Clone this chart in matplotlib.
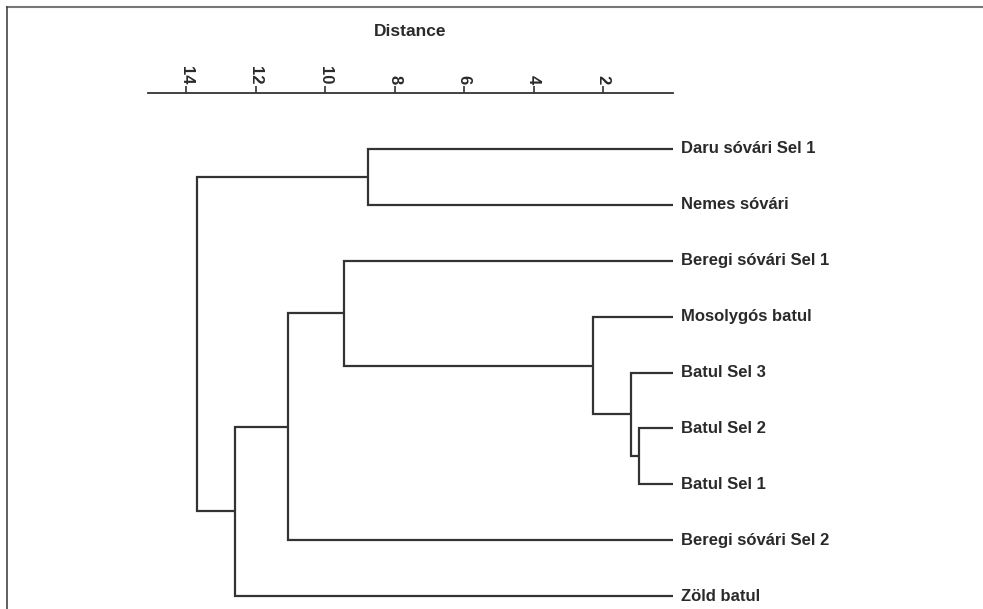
import matplotlib
matplotlib.use("Agg")
import matplotlib.pyplot as plt
from matplotlib.lines import Line2D

plt.rcParams['font.family'] = ['Liberation Sans', 'DejaVu Sans']

leaves = ["Daru sóvári Sel 1", "Nemes sóvári", "Beregi sóvári Sel 1",
          "Mosolygós batul", "Batul Sel 3", "Batul Sel 2", "Batul Sel 1",
          "Beregi sóvári Sel 2", "Zöld batul"]

# linkage: cluster n_leaves + k joins merge_left[k] and merge_right[k]
merge_left = [5, 4, 3, 0, 2, 13, 14, 12]
merge_right = [6, 9, 10, 1, 11, 7, 8, 15]
merge_height = [0.96, 1.19, 2.28, 8.77, 9.45, 11.06, 12.59, 13.68]

tick_values = [14, 12, 10, 8, 6, 4, 2]

LINE = "#333333"
TEXT = "#2a2a2a"

fig = plt.figure(figsize=(9.83, 6.09), dpi=100)
ax = fig.add_axes([148 / 983, 0, (672.5 - 148) / 983, 1 - 93 / 609])

n = len(leaves)
pos = {i: (0.0, float(i)) for i in range(n)}
for k, (a, b, h) in enumerate(zip(merge_left, merge_right, merge_height)):
    xa, ya = pos[a]
    xb, yb = pos[b]
    ax.plot([xa, h, h, xb], [ya, ya, yb, yb], color=LINE, lw=1.6,
            solid_joinstyle="miter", solid_capstyle="butt", clip_on=False)
    pos[n + k] = (h, (ya + yb) / 2)

for i, name in enumerate(leaves):
    ax.annotate(name, (0, i), xytext=(6, 0), textcoords="offset points",
                va="center", ha="left", fontsize=12, fontweight="bold",
                color=TEXT, annotation_clip=False)

ax.set_xlim(15.1, 0)
ax.set_ylim(8.23, -1.0)

for side in ["left", "right", "bottom"]:
    ax.spines[side].set_visible(False)
ax.spines["top"].set_color(LINE)
ax.spines["top"].set_linewidth(1.3)
ax.set_yticks([])
ax.xaxis.set_ticks_position("top")
ax.xaxis.set_label_position("top")
ax.set_xticks(tick_values)
ax.set_xticklabels([str(v) for v in tick_values], rotation=270,
                   fontsize=12, fontweight="bold", color=TEXT)
ax.tick_params(axis="x", direction="out", length=5, width=1.2, color=LINE, pad=1)
ax.set_xlabel("Distance", fontsize=12.5, fontweight="bold", color=TEXT,
              labelpad=22)
ax.patch.set_visible(False)

# page frame along the top and left edges
fig.add_artist(Line2D([7 / 983, 1], [1 - 7 / 609, 1 - 7 / 609],
                      transform=fig.transFigure, color="#777777", lw=1.5))
fig.add_artist(Line2D([7 / 983, 7 / 983], [0, 1 - 7 / 609],
                      transform=fig.transFigure, color="#444444", lw=1.2))

fig.savefig("out.png", dpi=100)
